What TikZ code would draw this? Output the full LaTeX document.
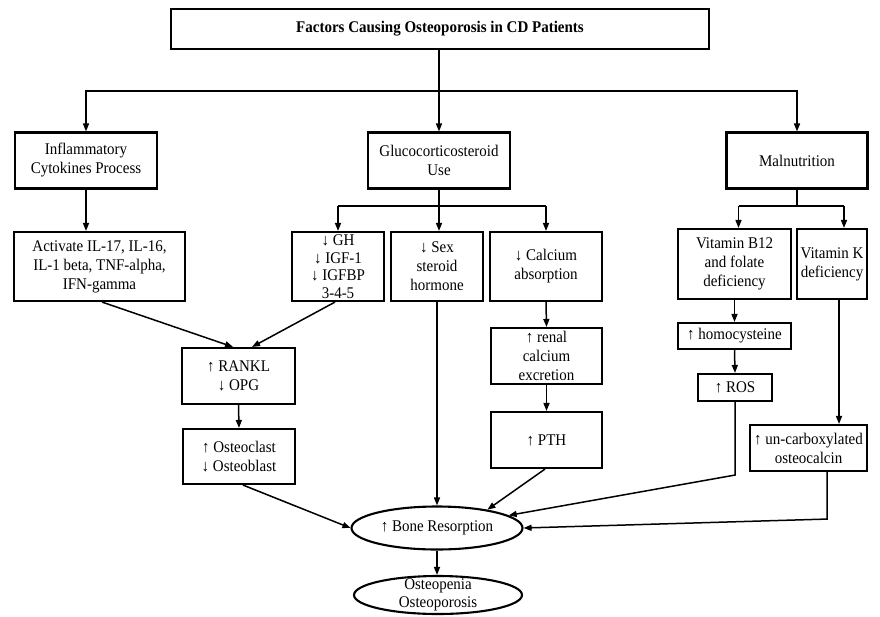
\documentclass[tikz,border=0pt]{standalone}
\usepackage{fontspec}
\setmainfont{Liberation Serif}[FakeStretch=0.92]
\usetikzlibrary{arrows.meta,shapes.geometric,calc}
\begin{document}
\begin{tikzpicture}[x=1pt,y=-1pt,
  box/.style={draw,line width=2.1pt,align=center,inner sep=0pt,font=\fontsize{16.3}{19}\selectfont},
  oval/.style={draw,ellipse,line width=2.1pt,align=center,inner sep=0pt,font=\fontsize{16.3}{18}\selectfont},
  arr/.style={line width=1.5pt,-{Triangle[length=8pt,width=6pt]}},
  ln/.style={line width=1.5pt}]
\useasboundingbox (0,0) rectangle (880,616);
% nodes
\node[box,minimum width=538pt,minimum height=40pt,font=\fontsize{16.3}{19}\selectfont\bfseries] (title) at (440,29) {Factors Causing Osteoporosis in CD Patients};
\node[box,minimum width=142pt,minimum height=56pt] (infl) at (86,160.5) {Inflammatory\\Cytokines Process};
\node[box,minimum width=142pt,minimum height=56pt] (gluco) at (439,160.5) {Glucocorticosteroid\\Use};
\node[box,minimum width=141pt,minimum height=56pt] (maln) at (797,160.5) {Malnutrition};
\node[box,minimum width=171pt,minimum height=69pt] (act) at (99.5,266.5) {Activate IL-17, IL-16,\\IL-1 beta, TNF-alpha,\\IFN-gamma};
\node[box,minimum width=92pt,minimum height=69pt,font=\fontsize{16.3}{17.5}\selectfont] (gh) at (338,266.5) {↓ GH\\↓ IGF-1\\↓ IGFBP\\3-4-5};
\node[box,minimum width=92pt,minimum height=69pt] (sex) at (437,266.5) {↓ Sex\\steroid\\hormone};
\node[box,minimum width=112pt,minimum height=69pt] (calc) at (546,266.5) {↓ Calcium\\absorption};
\node[box,minimum width=113pt,minimum height=70pt] (b12) at (734.5,264) {Vitamin B12\\and folate\\deficiency};
\node[box,minimum width=70pt,minimum height=70pt] (vitk) at (832,264) {Vitamin K\\deficiency};
\node[box,minimum width=113pt,minimum height=56pt] (rankl) at (238.5,376) {↑ RANKL\\↓ OPG};
\node[box,minimum width=112pt,minimum height=55pt] (ocl) at (239,456.5) {↑ Osteoclast\\↓ Osteoblast};
\node[box,minimum width=111pt,minimum height=56pt] (renal) at (546.5,356) {↑ renal\\calcium\\excretion};
\node[box,minimum width=111pt,minimum height=56pt] (pth) at (546.5,440) {↑ PTH};
\node[box,minimum width=113pt,minimum height=26pt] (homo) at (734.5,336) {↑ homocysteine};
\node[box,minimum width=74pt,minimum height=27pt] (ros) at (735,387.5) {↑ ROS};
\node[box,minimum width=117pt,minimum height=46pt] (unc) at (808.5,448) {↑ un-carboxylated\\osteocalcin};
\node[oval,minimum width=171pt,minimum height=43pt] (bone) at (437,528) {↑ Bone Resorption};
\node[oval,minimum width=168pt,minimum height=38pt,inner ysep=-4pt] (osteo) at (438,595) {Osteopenia\\Osteoporosis};
% connectors
\coordinate (j1) at (439,91);
\draw[arr] (title.south -| gluco.north) -- (gluco.north);
\draw[arr] (j1) -| (infl.north);
\draw[arr] (j1) -| (maln.north);
\draw[arr] (infl.south) -- (infl.south |- act.north);
\coordinate (j2) at (439,206);
\draw[ln] (gh.north |- j2) -- (calc.north |- j2);
\draw[arr] (gluco.south) -- (gluco.south |- sex.north);
\draw[arr] (gh.north |- j2) -- (gh.north);
\draw[arr] (calc.north |- j2) -- (calc.north);
\coordinate (j3) at (795,206);
\coordinate (b12t) at ([xshift=4pt]b12.north);
\coordinate (vkt) at ([xshift=12pt]vitk.north);
\draw[ln] (maln.south) -- (maln.south |- j3);
\draw[ln] (b12t |- j3) -- (vkt |- j3);
\draw[arr] (b12t |- j3) -- (b12t);
\draw[arr] (vkt |- j3) -- (vkt);
\coordinate (a1) at ([xshift=2.5pt]act.south);
\coordinate (r1) at ([xshift=-5.5pt]rankl.north);
\coordinate (g1) at ([xshift=-3pt]gh.south);
\coordinate (r2) at ([xshift=13.5pt]rankl.north);
\draw[arr] (a1) -- (r1);
\draw[arr] (g1) -- (r2);
\draw[arr] (rankl.south) -- (ocl.north);
\draw[arr] (sex.south) -- (sex.south |- bone.north);
\draw[arr] (calc.south) -- (renal.north);
\draw[arr] (renal.south) -- (pth.north);
\draw[arr] (b12.south) -- (homo.north);
\draw[arr] (homo.south) -- (ros.north);
\coordinate (vk) at ([xshift=7pt]vitk.south);
\draw[arr] (vk) -- (vk |- unc.north);
\coordinate (o1) at ([xshift=4pt]ocl.south);
\draw[arr] (o1) -- (bone.west);
\coordinate (p1) at ([xshift=-1.5pt]pth.south);
\draw[arr] (p1) -- (bone.20);
\path (ros.south) ++(0,73) coordinate (k1);
\draw[arr] (ros.south) -- (k1) -- (bone.10);
\path ([xshift=18.5pt]unc.south) coordinate (u1) ++(0,47) coordinate (u2);
\draw[arr] (u1) -- (u2) -- (bone.east);
\draw[arr] (bone.south) -- (bone.south |- osteo.north);
\end{tikzpicture}
\end{document}
